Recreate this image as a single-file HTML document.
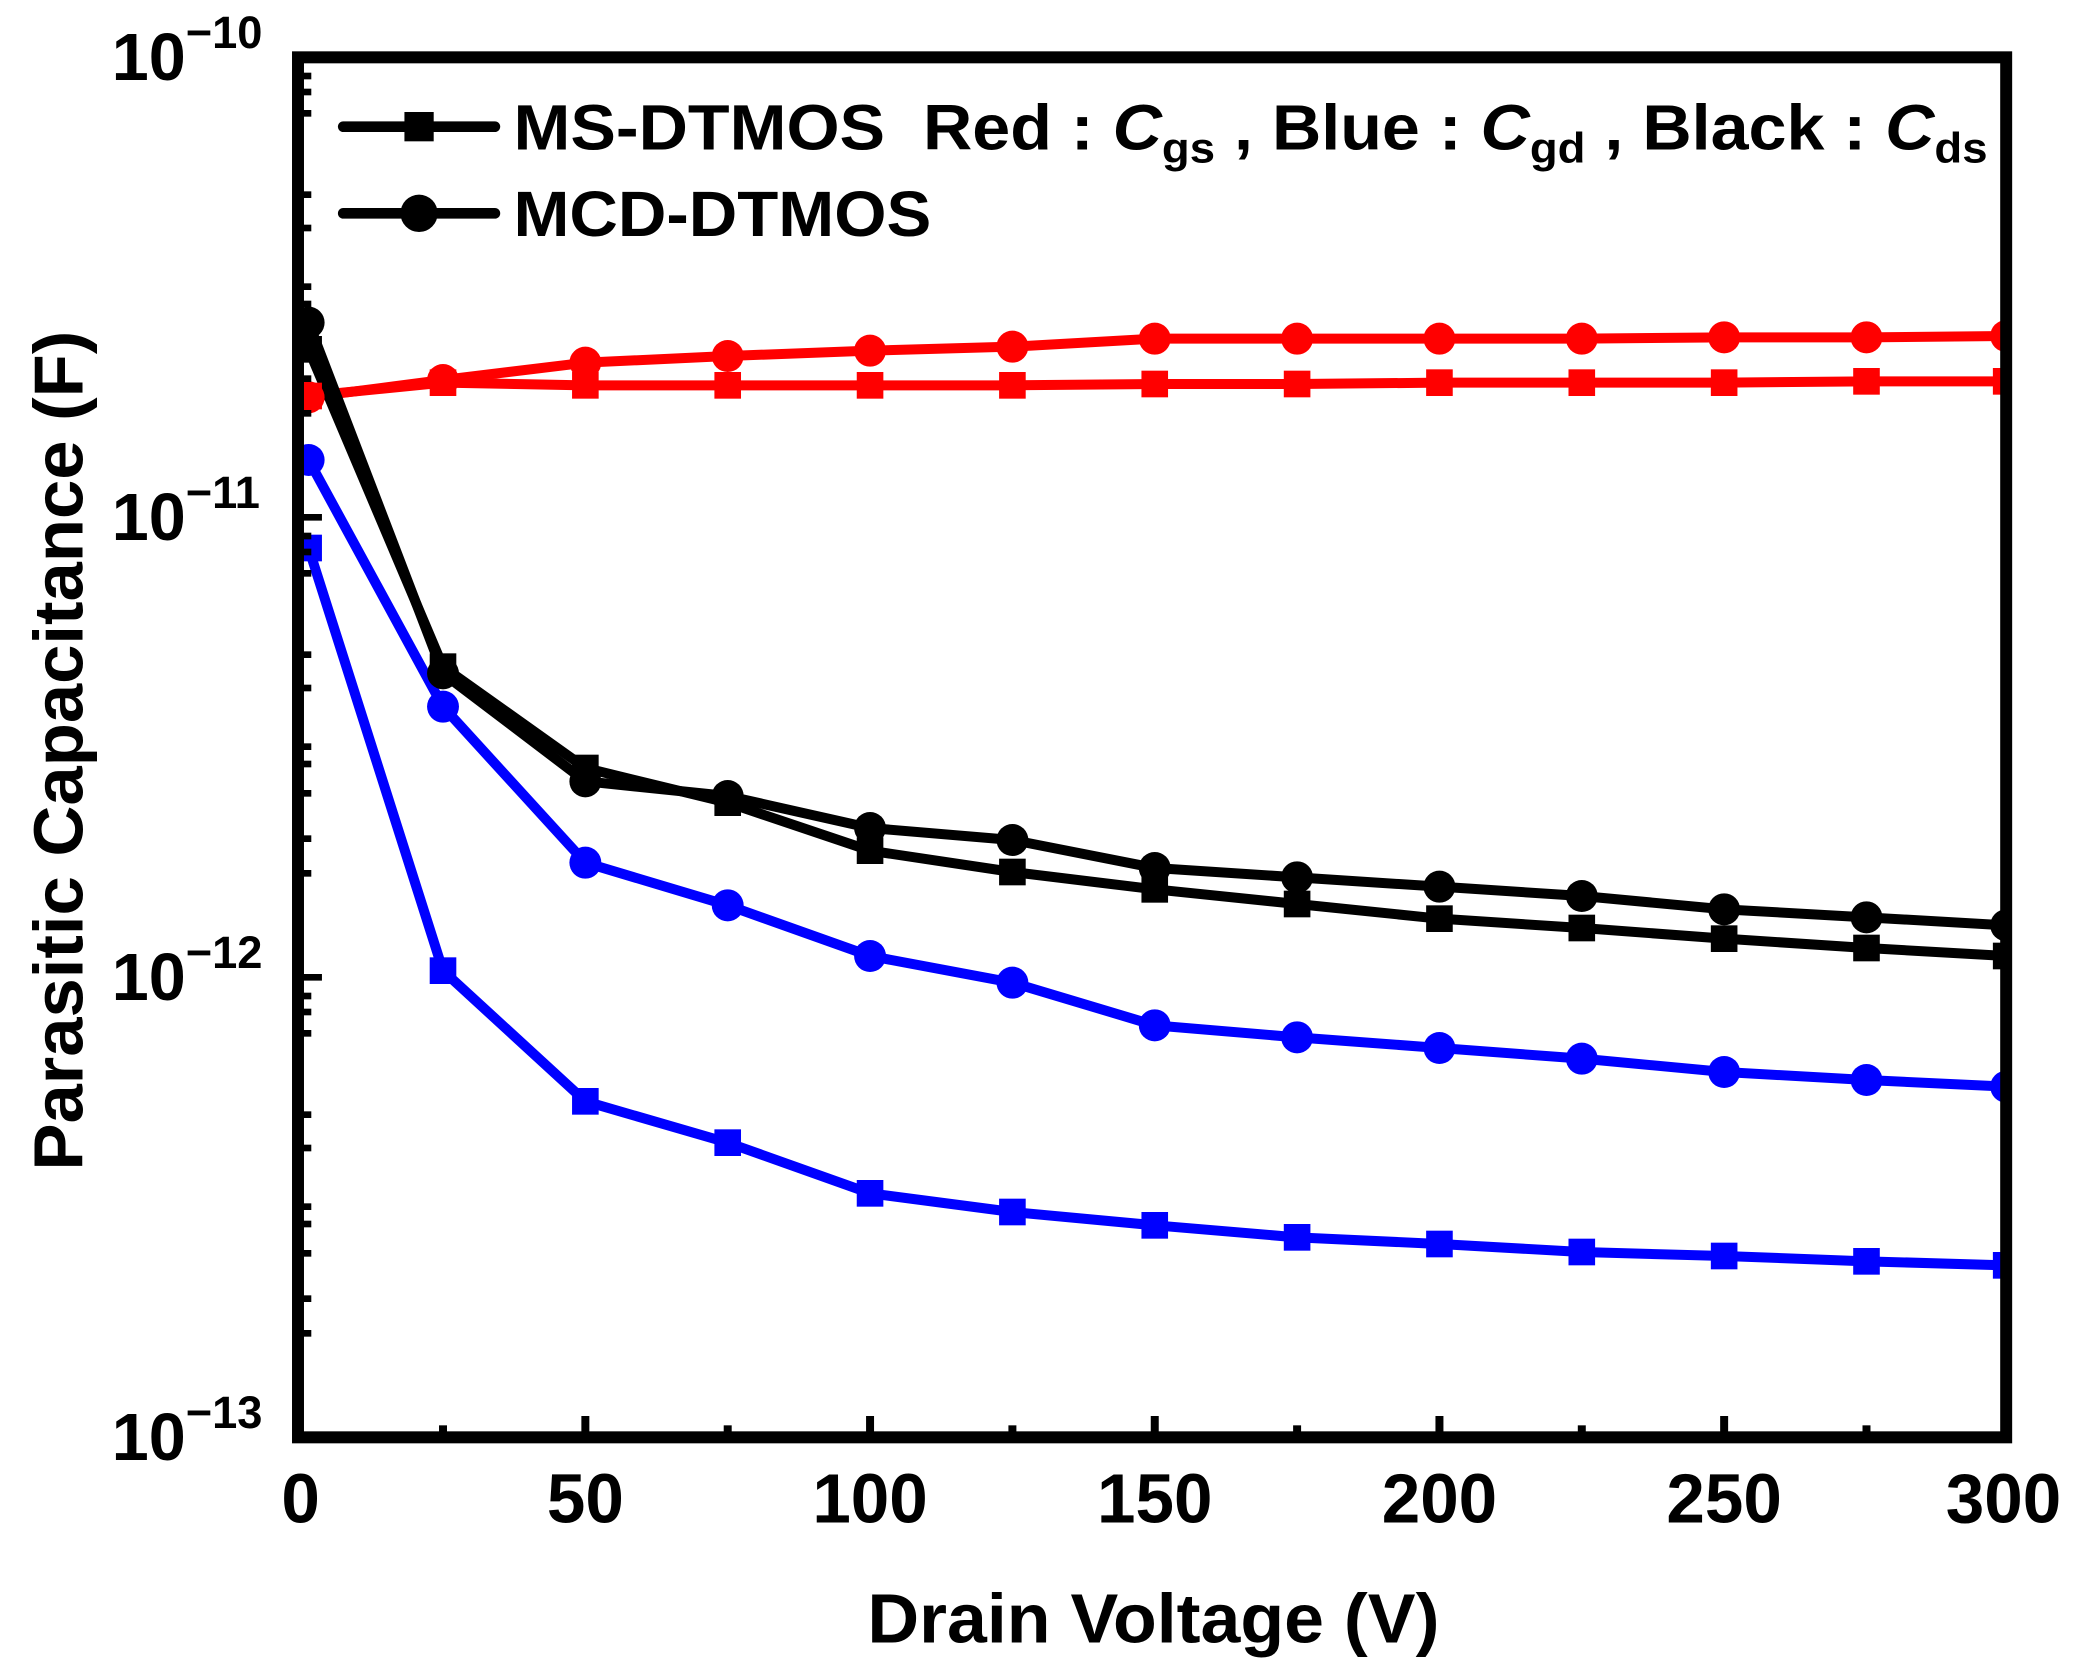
<!DOCTYPE html>
<html><head><meta charset="utf-8"><style>
html,body{margin:0;padding:0;background:#fff;}
svg{display:block;}
text{font-family:"Liberation Sans",Arial,sans-serif;font-weight:bold;fill:#000;}
</style></head><body>
<svg width="2086" height="1672" viewBox="0 0 1568 1254" preserveAspectRatio="none" xmlns="http://www.w3.org/2000/svg">
<rect width="1568" height="1254" fill="#fff"/>
<defs>
<g id="sq"><rect x="-10" y="-10" width="20" height="20"/></g>
<g id="ci"><circle r="12"/></g>
</defs>
<g id="series" stroke-width="7.5" fill="none" stroke-linejoin="round">
<polyline stroke="#f00" points="232,297 333,287 440,289 547,289 654,289 761,289 868,288 975,288 1082,287 1189,287 1296,287 1403,286 1508,286"/>
<polyline stroke="#f00" points="232,298 333,285 440,272 547,267 654,263 761,260 868,254 975,254 1082,254 1189,254 1296,253 1403,253 1508,252"/>
<polyline stroke="#000" points="232,262 333,500 440,576 547,602 654,638 761,654 868,667 975,678 1082,689 1189,696 1296,704 1403,711 1508,717"/>
<polyline stroke="#000" points="232,242 333,505 440,586 547,597 654,621 761,630 868,651 975,658 1082,665 1189,672 1296,682 1403,688 1508,694"/>
<polyline stroke="#00f" points="232,345 333,530 440,647 547,679 654,717 761,737 868,769 975,778 1082,786 1189,794 1296,804 1403,810 1508,815"/>
<polyline stroke="#00f" points="232,411 333,728 440,826 547,857 654,895 761,909 868,919 975,928 1082,933 1189,939 1296,942 1403,946 1508,949"/>
</g>
<g fill="#f00">
<use href="#sq" x="232" y="297"/><use href="#sq" x="333" y="287"/><use href="#sq" x="440" y="289"/><use href="#sq" x="547" y="289"/><use href="#sq" x="654" y="289"/><use href="#sq" x="761" y="289"/><use href="#sq" x="868" y="288"/><use href="#sq" x="975" y="288"/><use href="#sq" x="1082" y="287"/><use href="#sq" x="1189" y="287"/><use href="#sq" x="1296" y="287"/><use href="#sq" x="1403" y="286"/><use href="#sq" x="1508" y="286"/>
<use href="#ci" x="232" y="298"/><use href="#ci" x="333" y="285"/><use href="#ci" x="440" y="272"/><use href="#ci" x="547" y="267"/><use href="#ci" x="654" y="263"/><use href="#ci" x="761" y="260"/><use href="#ci" x="868" y="254"/><use href="#ci" x="975" y="254"/><use href="#ci" x="1082" y="254"/><use href="#ci" x="1189" y="254"/><use href="#ci" x="1296" y="253"/><use href="#ci" x="1403" y="253"/><use href="#ci" x="1508" y="252"/>
</g>
<g fill="#000">
<use href="#sq" x="232" y="262"/><use href="#sq" x="333" y="500"/><use href="#sq" x="440" y="576"/><use href="#sq" x="547" y="602"/><use href="#sq" x="654" y="638"/><use href="#sq" x="761" y="654"/><use href="#sq" x="868" y="667"/><use href="#sq" x="975" y="678"/><use href="#sq" x="1082" y="689"/><use href="#sq" x="1189" y="696"/><use href="#sq" x="1296" y="704"/><use href="#sq" x="1403" y="711"/><use href="#sq" x="1508" y="717"/>
<use href="#ci" x="232" y="242"/><use href="#ci" x="333" y="505"/><use href="#ci" x="440" y="586"/><use href="#ci" x="547" y="597"/><use href="#ci" x="654" y="621"/><use href="#ci" x="761" y="630"/><use href="#ci" x="868" y="651"/><use href="#ci" x="975" y="658"/><use href="#ci" x="1082" y="665"/><use href="#ci" x="1189" y="672"/><use href="#ci" x="1296" y="682"/><use href="#ci" x="1403" y="688"/><use href="#ci" x="1508" y="694"/>
</g>
<g fill="#00f">
<use href="#ci" x="232" y="345"/><use href="#ci" x="333" y="530"/><use href="#ci" x="440" y="647"/><use href="#ci" x="547" y="679"/><use href="#ci" x="654" y="717"/><use href="#ci" x="761" y="737"/><use href="#ci" x="868" y="769"/><use href="#ci" x="975" y="778"/><use href="#ci" x="1082" y="786"/><use href="#ci" x="1189" y="794"/><use href="#ci" x="1296" y="804"/><use href="#ci" x="1403" y="810"/><use href="#ci" x="1508" y="815"/>
<use href="#sq" x="232" y="411"/><use href="#sq" x="333" y="728"/><use href="#sq" x="440" y="826"/><use href="#sq" x="547" y="857"/><use href="#sq" x="654" y="895"/><use href="#sq" x="761" y="909"/><use href="#sq" x="868" y="919"/><use href="#sq" x="975" y="928"/><use href="#sq" x="1082" y="933"/><use href="#sq" x="1189" y="939"/><use href="#sq" x="1296" y="942"/><use href="#sq" x="1403" y="946"/><use href="#sq" x="1508" y="949"/>
</g>
<rect x="0" y="0" width="220" height="1254" fill="#fff"/>
<rect x="1512" y="0" width="56" height="1254" fill="#fff"/>
<rect x="224" y="43" width="1284" height="1035" fill="none" stroke="#000" stroke-width="9"/>
<g stroke="#000" stroke-width="5">
<line x1="224" y1="388" x2="242" y2="388"/><line x1="224" y1="733" x2="242" y2="733"/>
<line x1="224" y1="940" x2="234" y2="940"/><line x1="224" y1="1000" x2="234" y2="1000"/><line x1="224" y1="974" x2="234" y2="974"/><line x1="224" y1="918" x2="234" y2="918"/><line x1="224" y1="905" x2="234" y2="905"/><line x1="224" y1="861" x2="234" y2="861"/><line x1="224" y1="836" x2="234" y2="836"/><line x1="224" y1="759" x2="234" y2="759"/><line x1="224" y1="747" x2="234" y2="747"/><line x1="224" y1="775" x2="234" y2="775"/>
<line x1="224" y1="595" x2="234" y2="595"/><line x1="224" y1="655" x2="234" y2="655"/><line x1="224" y1="629" x2="234" y2="629"/><line x1="224" y1="573" x2="234" y2="573"/><line x1="224" y1="560" x2="234" y2="560"/><line x1="224" y1="516" x2="234" y2="516"/><line x1="224" y1="491" x2="234" y2="491"/><line x1="224" y1="414" x2="234" y2="414"/><line x1="224" y1="402" x2="234" y2="402"/><line x1="224" y1="430" x2="234" y2="430"/>
<line x1="224" y1="250" x2="234" y2="250"/><line x1="224" y1="310" x2="234" y2="310"/><line x1="224" y1="284" x2="234" y2="284"/><line x1="224" y1="228" x2="234" y2="228"/><line x1="224" y1="215" x2="234" y2="215"/><line x1="224" y1="171" x2="234" y2="171"/><line x1="224" y1="146" x2="234" y2="146"/><line x1="224" y1="69" x2="234" y2="69"/><line x1="224" y1="57" x2="234" y2="57"/><line x1="224" y1="85" x2="234" y2="85"/>
</g>
<g stroke="#000" stroke-width="6">
<line x1="440" y1="1078" x2="440" y2="1062"/><line x1="654" y1="1078" x2="654" y2="1062"/><line x1="868" y1="1078" x2="868" y2="1062"/><line x1="1082" y1="1078" x2="1082" y2="1062"/><line x1="1296" y1="1078" x2="1296" y2="1062"/>
<line x1="333" y1="1078" x2="333" y2="1069"/><line x1="547" y1="1078" x2="547" y2="1069"/><line x1="761" y1="1078" x2="761" y2="1069"/><line x1="975" y1="1078" x2="975" y2="1069"/><line x1="1189" y1="1078" x2="1189" y2="1069"/><line x1="1403" y1="1078" x2="1403" y2="1069"/>
</g>
<g font-size="50">
<text x="84" y="60">10<tspan font-size="34" dy="-24">−10</tspan></text>
<text x="84" y="405">10<tspan font-size="34" dy="-24">−11</tspan></text>
<text x="84" y="750">10<tspan font-size="34" dy="-24">−12</tspan></text>
<text x="84" y="1095">10<tspan font-size="34" dy="-24">−13</tspan></text>
</g>
<g font-size="52" text-anchor="middle">
<text x="226" y="1142">0</text><text x="440" y="1142">50</text><text x="654" y="1142">100</text><text x="868" y="1142">150</text><text x="1082" y="1142">200</text><text x="1296" y="1142">250</text><text x="1506" y="1142">300</text>
</g>
<text x="652" y="1232" font-size="52" textLength="430" lengthAdjust="spacingAndGlyphs">Drain Voltage (V)</text>
<text transform="translate(62,878) rotate(-90)" font-size="52" textLength="630" lengthAdjust="spacingAndGlyphs">Parasitic Capacitance (F)</text>
<g stroke="#000" stroke-width="8" stroke-linecap="round"><line x1="258" y1="95" x2="372" y2="95"/><line x1="258" y1="160" x2="372" y2="160"/></g>
<rect x="304" y="84" width="22" height="22"/>
<circle cx="315" cy="160" r="14"/>
<text x="386" y="112" font-size="48" textLength="1108" lengthAdjust="spacingAndGlyphs" xml:space="preserve">MS-DTMOS  Red : <tspan font-style="italic">C</tspan><tspan font-size="32" dy="10">gs</tspan><tspan dy="-10"> , Blue : </tspan><tspan font-style="italic">C</tspan><tspan font-size="32" dy="10">gd</tspan><tspan dy="-10"> , Black : </tspan><tspan font-style="italic">C</tspan><tspan font-size="32" dy="10">ds</tspan></text>
<text x="386" y="177" font-size="48" textLength="314" lengthAdjust="spacingAndGlyphs">MCD-DTMOS</text>
</svg>
</body></html>
